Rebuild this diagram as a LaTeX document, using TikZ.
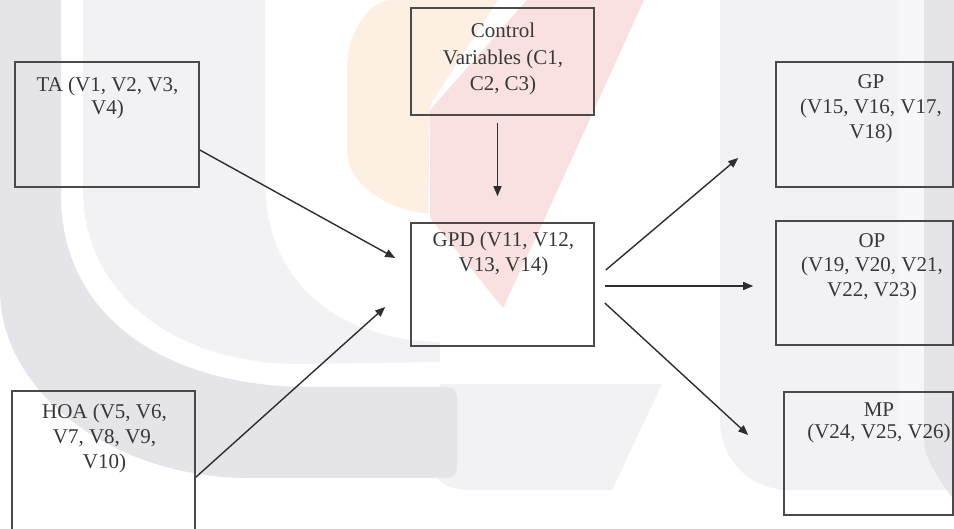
\documentclass[tikz,border=0pt]{standalone}
\usepackage{fontspec}
\setmainfont{Liberation Serif}
\usetikzlibrary{arrows.meta,calc}

\definecolor{wmdark}{HTML}{E4E4E9}
\definecolor{wmlight}{HTML}{F2F2F5}
\definecolor{wmpale}{HTML}{F7F7F9}
\definecolor{wmorange}{HTML}{FDF0E2}
\definecolor{wmpink}{HTML}{F9E1E1}
\definecolor{boxc}{HTML}{4A4A4A}
\definecolor{arrc}{HTML}{2E2E2E}
\definecolor{textc}{HTML}{383838}

\tikzset{
  box/.style={draw=boxc, line width=1.6pt, inner sep=0pt},
  txt/.style={anchor=north, align=center, inner sep=0pt, text=textc,
              font=\fontsize{21}{25}\selectfont},
  arr/.style={draw=arrc, line width=1.4pt, -{Triangle[length=10pt,width=8pt]}},
}

\begin{document}
\begin{tikzpicture}[x=1pt,y=-1pt]
\useasboundingbox (0,0) rectangle (954,529);
\fill[white] (0,0) rectangle (954,529);

% --- faint background emblem ---
% left light arc
\fill[wmlight] (83,0) -- (265,0) -- (265,180)
  .. controls (265,285) and (340,340) .. (440,342) -- (440,362) -- (300,364)
  .. controls (170,364) and (83,290) .. (83,190) -- cycle;
% bottom centre light patch
\fill[wmlight] (440,384) -- (662,384) -- (612,490) -- (470,490)
  .. controls (445,490) and (430,478) .. (430,460) -- cycle;
% left dark arc
\fill[wmdark] (0,0) -- (61,0) -- (61,195)
  .. controls (61,320) and (170,387) .. (310,387) -- (447,387)
  .. controls (453,387) and (457,391) .. (457,397) -- (457,468)
  .. controls (457,474) and (453,478) .. (447,478) -- (250,478)
  .. controls (110,478) and (0,390) .. (0,290) -- cycle;
% right light band
\fill[wmlight] (720,0) -- (954,0) -- (954,490) -- (790,490)
  .. controls (750,490) and (720,460) .. (720,420) -- cycle;
\fill[wmpale] (898,0) -- (924,0) -- (924,440) -- (898,440) -- cycle;
% right dark strip
\fill[wmdark] (924,0) -- (954,0) -- (954,500)
  .. controls (940,480) and (924,460) .. (924,440) -- cycle;
% flame
\fill[wmorange] (393,0) -- (498,0) -- (430,105) -- (428,213)
  .. controls (400,213) and (347,190) .. (347,150) -- (347,70)
  .. controls (347,30) and (370,0) .. (393,0) -- cycle;
\fill[wmpink] (527,0) -- (644,0) -- (544,220) -- (503,308)
  -- (430,218) -- (430,110) -- cycle;

% --- boxes ---
\node[box, minimum width=184pt, minimum height=125pt] (TA)  at (107,124.5) {};
\node[box, minimum width=183pt, minimum height=107pt] (CV)  at (502.5,61.5) {};
\node[box, minimum width=183pt, minimum height=123pt] (GPD) at (502.5,284.5) {};
\node[box, minimum width=183pt, minimum height=154pt] (HOA) at (103.5,468) {};
\node[box, minimum width=177pt, minimum height=125pt] (GP)  at (864.5,124.5) {};
\node[box, minimum width=177pt, minimum height=124pt] (OP)  at (864.5,283) {};
\node[box, minimum width=169pt, minimum height=123pt] (MP)  at (868.5,453.5) {};

% --- box texts ---
\node[txt, font=\fontsize{21}{23}\selectfont] (TAt) at ($(TA.north)+(0.5,16)$) {TA (V1, V2, V3,\\V4)};
\node[txt, font=\fontsize{21}{26.5}\selectfont] (CVt) at ($(CV.north)+(0.5,16)$) {Control\\Variables (C1,\\C2, C3)};
\node[txt] (GPDt) at ($(GPD.north)+(1,10)$) {GPD (V11, V12,\\V13, V14)};
\node[txt] (HOAt) at ($(HOA.north)+(1,14)$) {HOA (V5, V6,\\V7, V8, V9,\\V10)};
\node[txt] (GPt) at ($(GP.north)+(6.5,13)$) {GP\\(V15, V16, V17,\\V18)};
\node[txt, font=\fontsize{21}{24.5}\selectfont] (OPt) at ($(OP.north)+(7.5,13)$) {OP\\(V19, V20, V21,\\V22, V23)};
\node[txt, font=\fontsize{21}{22}\selectfont] (MPt) at ($(MP.north)+(10.5,11)$) {MP\\(V24, V25, V26)};

% --- connectors ---
\draw[arr] ($(TA.east)+(0,25.5)$) -- ($(GPD.west)+(-15,-26.5)$);
\draw[arr] ($(HOA.north east)+(0,87)$) -- ($(GPD.west)+(-25,22.5)$);
\draw[arr] ($(CV.south)+(-5,7)$) -- ($(GPD.north)+(-5,-26)$);
\draw[arr] ($(GPD.east)+(11,-14.5)$) -- ($(GP.west)+(-37,33.5)$);
\draw[arr] ($(GPD.east)+(10,1.5)$) -- ($(OP.west)+(-22,3)$);
\draw[arr] ($(GPD.east)+(10,18.5)$) -- ($(MP.west)+(-35,-18.5)$);
\end{tikzpicture}
\end{document}
